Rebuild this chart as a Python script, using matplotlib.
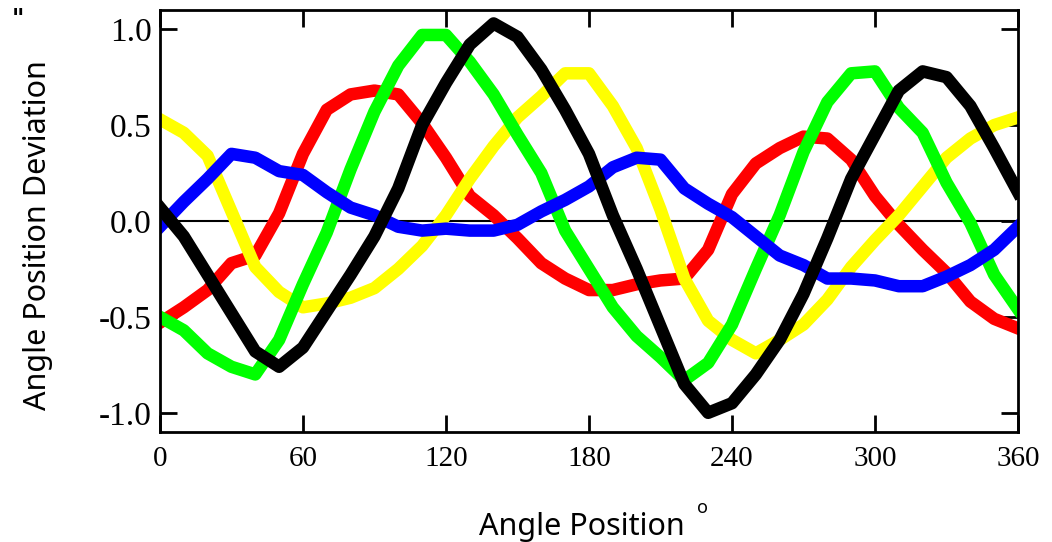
import numpy as np
import matplotlib
matplotlib.use("Agg")
import matplotlib.pyplot as plt
from matplotlib.ticker import FormatStrFormatter

plt.rcParams['axes.unicode_minus'] = False

# angle position in degrees, read every 10 degrees
angle = np.arange(0, 361, 10)

red = [-0.53, -0.45, -0.36, -0.22, -0.18, 0.04, 0.35, 0.58, 0.66, 0.68,
       0.66, 0.51, 0.33, 0.13, 0.03, -0.09, -0.22, -0.30, -0.36, -0.36,
       -0.33, -0.31, -0.30, -0.15, 0.14, 0.30, 0.38, 0.44, 0.43, 0.32,
       0.13, -0.02, -0.15, -0.27, -0.42, -0.51, -0.56]
yellow = [0.53, 0.46, 0.34, 0.05, -0.24, -0.37, -0.45, -0.43, -0.40, -0.35,
          -0.25, -0.13, 0.03, 0.22, 0.39, 0.54, 0.65, 0.77, 0.77, 0.60,
          0.38, 0.06, -0.30, -0.52, -0.62, -0.69, -0.62, -0.54, -0.41, -0.24,
          -0.10, 0.03, 0.18, 0.33, 0.43, 0.50, 0.54]
green = [-0.50, -0.57, -0.69, -0.76, -0.80, -0.62, -0.33, -0.06, 0.27, 0.57,
         0.81, 0.97, 0.97, 0.83, 0.66, 0.45, 0.25, -0.05, -0.25, -0.45,
         -0.60, -0.71, -0.83, -0.74, -0.54, -0.25, 0.03, 0.36, 0.62, 0.77,
         0.78, 0.59, 0.46, 0.20, -0.01, -0.28, -0.46]
blue = [-0.03, 0.10, 0.22, 0.35, 0.33, 0.26, 0.24, 0.15, 0.07, 0.03,
        -0.03, -0.05, -0.04, -0.05, -0.05, -0.02, 0.05, 0.11, 0.18, 0.28,
        0.33, 0.32, 0.17, 0.09, 0.02, -0.08, -0.18, -0.23, -0.30, -0.30,
        -0.31, -0.34, -0.34, -0.29, -0.23, -0.15, -0.03]
black = [0.07, -0.08, -0.28, -0.48, -0.68, -0.76, -0.66, -0.47, -0.28, -0.08,
         0.17, 0.50, 0.72, 0.92, 1.03, 0.96, 0.79, 0.58, 0.35, 0.03,
         -0.25, -0.55, -0.85, -1.00, -0.95, -0.80, -0.62, -0.38, -0.09, 0.22,
         0.45, 0.68, 0.78, 0.75, 0.60, 0.38, 0.15]

series = [(red, "#ff0000"), (yellow, "#ffff00"), (green, "#00ff00"),
          (blue, "#0000ff"), (black, "#000000")]

fig = plt.figure(figsize=(10.52, 5.42), dpi=100)
ax = fig.add_axes([0.152, 0.203, 0.8157, 0.7785])

ax.axhline(0, color="black", lw=1.5, zorder=1)
for vals, col in series:
    ax.plot(angle, vals, color=col, lw=9, solid_joinstyle="round", zorder=2)

ax.set_xlim(0, 360)
ax.set_ylim(-1.1, 1.1)
ax.set_xticks(np.arange(0, 361, 60))
ax.set_yticks([-1.0, -0.5, 0.0, 0.5, 1.0])
ax.yaxis.set_major_formatter(FormatStrFormatter('%.1f'))
ax.tick_params(direction='in', length=12, width=2, top=True, right=True)
ax.tick_params(axis='y', labelsize=24, pad=6)
ax.tick_params(axis='x', labelsize=21, pad=10)
for lab in ax.get_xticklabels() + ax.get_yticklabels():
    lab.set_family("Liberation Serif")
for sp in ax.spines.values():
    sp.set_linewidth(2)

ax.set_ylabel("Angle Position Deviation", family="Noto Sans", fontsize=22)
ax.yaxis.set_label_coords(0.05, 0.566, transform=fig.transFigure)
ax.set_xlabel("Angle Position", family="Noto Sans", fontsize=22, va="baseline")
ax.xaxis.set_label_coords(0.553, 0.013, transform=fig.transFigure)
fig.text(0.6625, 0.053, "o", family="Noto Sans", fontsize=13)
fig.text(0.011, 0.952, '"', family="DejaVu Sans", fontsize=17, weight="bold")

fig.savefig("out.png", dpi=100)
